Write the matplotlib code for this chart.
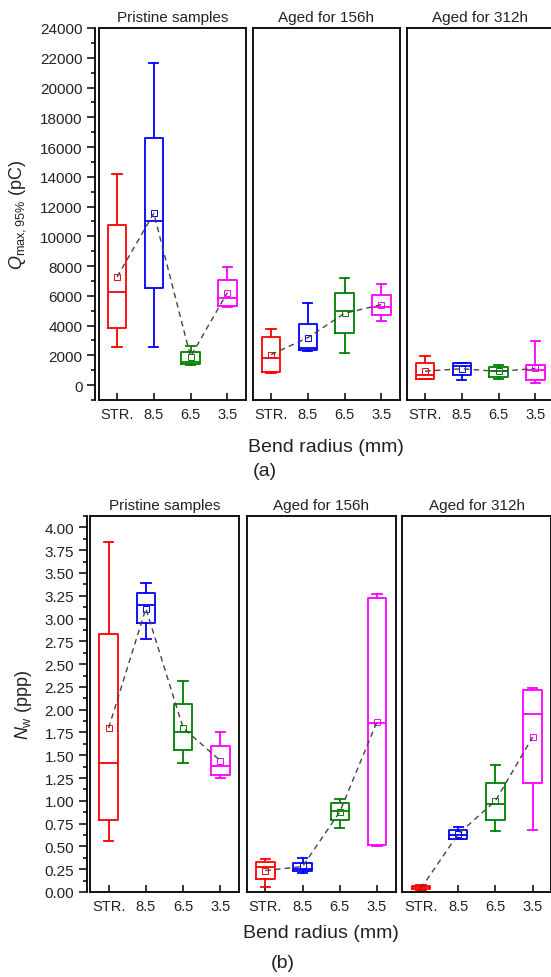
import matplotlib
matplotlib.use('Agg')
import matplotlib.pyplot as plt
from matplotlib.ticker import MultipleLocator

plt.rcParams['font.family'] = ['Liberation Sans', 'DejaVu Sans']
plt.rcParams['mathtext.fontset'] = 'custom'
plt.rcParams['mathtext.rm'] = 'Liberation Sans'
plt.rcParams['mathtext.it'] = 'Liberation Sans:italic'

cats = ['STR.', '8.5', '6.5', '3.5']
colors = ['#FF0000', '#0000FF', '#008000', '#FF00FF']
titles = ['Pristine samples', 'Aged for 156h', 'Aged for 312h']

# (a) Qmax,95% (pC) - one row per panel, one value per bend radius
q_whislo = [[2560, 2560, 1380, 5230], [790, 2290, 2180, 4310], [420, 320, 430, 160]]
q_q1 = [[3860, 6530, 1400, 5320], [875, 2335, 3530, 4690], [430, 700, 565, 320]]
q_med = [[6290, 11060, 1570, 5830], [1800, 2520, 5000, 5230], [650, 1280, 920, 990]]
q_q3 = [[10730, 16580, 2250, 7090], [3230, 4130, 6190, 6080], [1460, 1460, 1190, 1350]]
q_whishi = [[14200, 21650, 2650, 7970], [3800, 5540, 7200, 6800], [1980, 1510, 1350, 2940]]
q_mean = [[7270, 11550, 1910, 6220], [2050, 3190, 4825, 5410], [940, 1100, 920, 1120]]

# (b) Nw (ppp)
n_whislo = [[0.56, 2.78, 1.42, 1.25], [0.05, 0.21, 0.70, 0.51], [0.02, 0.58, 0.665, 0.68]]
n_q1 = [[0.79, 2.95, 1.56, 1.28], [0.145, 0.23, 0.785, 0.52], [0.03, 0.585, 0.795, 1.20]]
n_med = [[1.41, 3.15, 1.75, 1.38], [0.27, 0.255, 0.89, 1.85], [0.05, 0.62, 0.97, 1.95]]
n_q3 = [[2.83, 3.28, 2.06, 1.60], [0.33, 0.32, 0.98, 3.22], [0.065, 0.675, 1.195, 2.22]]
n_whishi = [[3.84, 3.39, 2.31, 1.76], [0.365, 0.37, 1.015, 3.27], [0.075, 0.71, 1.395, 2.24]]
n_mean = [[1.80, 3.11, 1.80, 1.44], [0.235, 0.28, 0.88, 1.87], [0.04, 0.635, 1.00, 1.70]]

W, H = 551, 978
fig = plt.figure(figsize=(W / 100, H / 100), dpi=100)


def panel(left, top, width, height, p, lo, q1, med, q3, hi, mn):
    ax = fig.add_axes([left / W, 1 - (top + height) / H, width / W, height / H])
    pos = [1, 2, 3, 4]
    for i in range(4):
        c = colors[i]
        st = [dict(whislo=lo[p][i], q1=q1[p][i], med=med[p][i], q3=q3[p][i],
                   whishi=hi[p][i], mean=mn[p][i], fliers=[])]
        ax.bxp(st, positions=[pos[i]], widths=0.5, capwidths=0.25,
               showmeans=True, showfliers=False,
               boxprops=dict(color=c, lw=1.3),
               whiskerprops=dict(color=c, lw=1.3),
               capprops=dict(color=c, lw=1.3),
               medianprops=dict(color=c, lw=1.3),
               meanprops=dict(marker='s', markersize=4, markerfacecolor='none',
                              markeredgecolor=c, markeredgewidth=0.7))
    ax.plot(pos, mn[p], color='#444444', lw=1.0, dashes=(4, 3), zorder=3)
    ax.set_xlim(0.5, 4.5)
    ax.set_xticks(pos)
    ax.set_xticklabels(cats)
    ax.tick_params(axis='x', direction='in', length=5, width=1.1, pad=5,
                   labelsize=10.5, labelcolor='#222222')
    for s in ax.spines.values():
        s.set_linewidth(1.3)
    ax.set_title(titles[p], fontsize=11, color='#222222', pad=5)
    return ax


# ---- (a)
lefts_a = [98.7, 252.7, 406.7]
axes_a = []
for p in range(3):
    ax = panel(lefts_a[p], 29, 147, 372, p, q_whislo, q_q1, q_med, q_q3, q_whishi, q_mean)
    ax.set_ylim(-1000, 24000)
    axes_a.append(ax)

# ---- (b)
lefts_b = [90, 246.7, 402.3]
axes_b = []
for p in range(3):
    ax = panel(lefts_b[p], 517, 149, 376, p, n_whislo, n_q1, n_med, n_q3, n_whishi, n_mean)
    ax.set_ylim(0, 4.125)
    axes_b.append(ax)

for axs, major, minor, fmt in [(axes_a, 2000, 1000, '{:.0f}'), (axes_b, 0.25, 0.125, '{:.2f}')]:
    ax = axs[0]
    ax.yaxis.set_major_locator(MultipleLocator(major))
    ax.yaxis.set_minor_locator(MultipleLocator(minor))
    ax.yaxis.set_major_formatter(plt.FuncFormatter(lambda v, pos, f=fmt: f.format(v) if v >= 0 else ''))
    ax.tick_params(axis='y', which='major', direction='out', length=6, width=1.1,
                   pad=3, labelsize=11, labelcolor='#222222')
    ax.tick_params(axis='y', which='minor', direction='out', length=3, width=1.1)
    ax.spines['left'].set_position(('outward', 2.5))
    ax.plot([0, 0], [0, 1], transform=ax.transAxes, color='k', lw=1.3, clip_on=False)
    for a in axs[1:]:
        a.tick_params(axis='y', which='both', left=False, labelleft=False)

fig.text(18 / W, 1 - 215 / H, r'$Q_{\mathrm{max,95\%}}$ (pC)', rotation=90,
         ha='center', va='center', fontsize=13, color='#222222')
fig.text(23 / W, 1 - 705 / H, r'$N_{\mathrm{w}}$ (ppp)', rotation=90,
         ha='center', va='center', fontsize=13, color='#222222')

fig.text(326 / W, 1 - 447 / H, 'Bend radius (mm)', ha='center', va='center',
         fontsize=14, color='#222222')
fig.text(321 / W, 1 - 934 / H, 'Bend radius (mm)', ha='center', va='center',
         fontsize=14, color='#222222')
fig.text(265 / W, 1 - 472 / H, '(a)', ha='center', va='center', fontsize=14, color='#222222')
fig.text(283 / W, 1 - 964 / H, '(b)', ha='center', va='center', fontsize=14, color='#222222')

fig.savefig('out.png', dpi=100)
